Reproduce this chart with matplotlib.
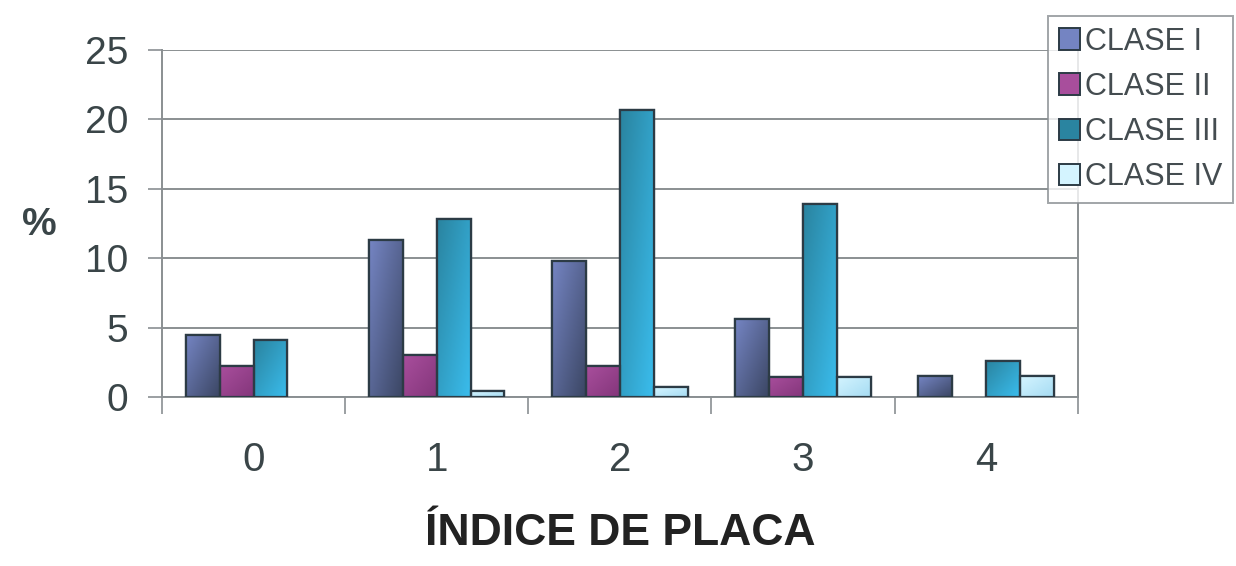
import matplotlib
matplotlib.use("Agg")
import matplotlib.pyplot as plt
from matplotlib.colors import LinearSegmentedColormap
from matplotlib.patches import Patch
import numpy as np

plt.rcParams['font.family'] = ['Liberation Sans', 'DejaVu Sans']

categories = ['0', '1', '2', '3', '4']
series_names = ['CLASE I', 'CLASE II', 'CLASE III', 'CLASE IV']
clase_i = [4.5, 11.3, 9.8, 5.6, 1.5]
clase_ii = [2.2, 3.0, 2.2, 1.45, 0.0]
clase_iii = [4.1, 12.8, 20.7, 13.9, 2.6]
clase_iv = [0.0, 0.4, 0.7, 1.45, 1.5]
yticks = [0, 5, 10, 15, 20, 25]

values = [clase_i, clase_ii, clase_iii, clase_iv]
# (top-left, bottom-right) colours of the diagonal shading for each series
shades = [('#7484c2', '#3c4765'),
          ('#a84e9c', '#84367b'),
          ('#2a84a0', '#3abcec'),
          ('#d4f4ff', '#a6dcf3')]
edge = '#2c3b45'
grey = '#8a8f92'
text_col = '#3a4548'

fig = plt.figure(figsize=(12.36, 5.66), dpi=100)
ax = fig.add_axes([0.131, 0.2986, 0.741, 0.613])

x = np.arange(len(categories))
width = 0.185
n = len(values)
gy, gx = np.mgrid[0:1:64j, 0:1:16j]
grad = (gx + (1.0 - gy)) / 2.0

for i, (vals, (c0, c1), name) in enumerate(zip(values, shades, series_names)):
    offs = (i - (n - 1) / 2) * width
    cmap = LinearSegmentedColormap.from_list(name, [c0, c1])
    lw = [1.6 if v > 0 else 0 for v in vals]
    bars = ax.bar(x + offs, vals, width, color=c0, edgecolor=edge,
                  linewidth=lw, zorder=3)
    for b in bars:
        h = b.get_height()
        if h <= 0:
            continue
        bx = b.get_x()
        im = ax.imshow(grad, cmap=cmap, origin='lower',
                       extent=(bx, bx + width, 0, h),
                       aspect='auto', zorder=3.2, interpolation='bilinear')
        im.set_clip_path(b)
        ax.bar(bx, h, width, align='edge', fill=False, edgecolor=edge,
               linewidth=1.6, zorder=3.5)

ax.set_xlim(-0.5, len(categories) - 0.5)
ax.set_ylim(0, 25)
ax.set_aspect('auto')
ax.set_yticks(yticks)
ax.set_yticklabels([str(t) for t in yticks], fontsize=28, color=text_col)
ax.yaxis.grid(True, color=grey, linewidth=1.4, zorder=0)

# category boundaries as major ticks, labels on minor ticks at centres
ax.set_xticks(np.arange(-0.5, len(categories), 1.0))
ax.set_xticklabels([])
ax.set_xticks(x, minor=True)
ax.set_xticklabels(categories, minor=True, fontsize=29, color=text_col)
ax.tick_params(axis='x', which='minor', length=0, pad=32)
ax.tick_params(axis='x', which='major', length=12, width=1.2, color=grey, direction='out')
ax.tick_params(axis='y', length=10, width=1.2, color=grey, direction='out', pad=14)

for s in ['left', 'bottom', 'right']:
    ax.spines[s].set_color(grey)
    ax.spines[s].set_linewidth(1.4)
ax.spines['top'].set_visible(False)

ax.set_xlabel('ÍNDICE DE PLACA', fontsize=32, fontweight='bold', color='#222222', labelpad=24)
fig.text(0.032, 0.602, '%', fontsize=28, fontweight='bold', color=text_col,
         ha='center', va='center')

handles = [Patch(facecolor=c0, edgecolor=edge, linewidth=1.4, label=name)
           for (c0, c1), name in zip(shades, series_names)]
leg = fig.legend(handles=handles, loc='upper left', bbox_to_anchor=(0.848, 0.972),
                 fontsize=22, frameon=True, fancybox=False, edgecolor=grey,
                 handlelength=0.7, handleheight=0.7, handletextpad=0.15,
                 labelspacing=0.5, borderpad=0.35, borderaxespad=0)
leg.get_frame().set_linewidth(1.4)
for t in leg.get_texts():
    t.set_color('#444c50')

fig.savefig('out.png', dpi=100, facecolor='white')
